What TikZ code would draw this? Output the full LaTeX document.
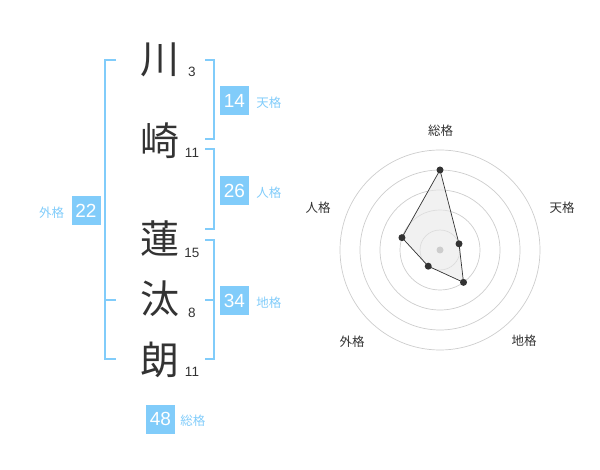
\documentclass[tikz,border=0pt]{standalone}
\usepackage{fontspec}
\setmainfont{Liberation Sans}
\newfontfamily\jpfont{Noto Sans CJK JP}
\usepackage{tikz}
\usetikzlibrary{positioning, calc}
\definecolor{skyblue}{RGB}{129,204,250}
\definecolor{inkdark}{RGB}{51,51,51}
\definecolor{ringgray}{RGB}{205,205,205}
\definecolor{areagray}{RGB}{232,232,232}
\tikzset{
  kanji/.style={font=\jpfont\fontsize{39}{39}\selectfont, text=inkdark, inner sep=0pt},
  strokes/.style={font=\fontsize{13.5}{13.5}\selectfont, text=inkdark, inner sep=0pt},
  scorebox/.style={rectangle, fill=skyblue, text=white, minimum width=29pt,
    minimum height=29pt, inner sep=0pt, font=\fontsize{19}{19}\selectfont},
  kaku/.style={font=\jpfont\fontsize{12.5}{12.5}\selectfont, text=skyblue, inner sep=0pt},
  bracket/.style={draw=skyblue, line width=2pt},
  ring/.style={draw=ringgray, line width=0.7pt},
  axislabel/.style={font=\jpfont\fontsize{12.5}{12.5}\selectfont, text=inkdark, inner sep=0pt},
  dot/.style={circle, fill=inkdark, inner sep=0pt, minimum size=7pt}
}
\begin{document}
\begin{tikzpicture}[x=1pt, y=-1pt]
  \useasboundingbox (0,0) rectangle (600,470);

  % Name
  \node[kanji] (c1) at (160,60) {川};
  \node[kanji] (c2) at (160,141) {崎};
  \node[kanji] (c3) at (160,239) {蓮};
  \node[kanji] (c4) at (160,299) {汰};
  \node[kanji] (c5) at (160,360) {朗};
  \node[strokes] (s1) at (192,72) {3};
  \node[strokes] (s2) at (192,153) {11};
  \node[strokes] (s3) at (192,253) {15};
  \node[strokes] (s4) at (192,313) {8};
  \node[strokes] (s5) at (192,372) {11};

  % Brackets
  \draw[bracket] (116,60) -- (105,60) -- (105,359) -- (116,359);
  \draw[bracket] (105,300) -- (116,300);
  \draw[bracket] (205,60) -- (214,60) -- (214,139) -- (205,139);
  \draw[bracket] (205,149) -- (214,149) -- (214,229) -- (205,229);
  \draw[bracket] (205,240) -- (214,240) -- (214,359) -- (205,359);
  \draw[bracket] (205,300) -- (214,300);

  % Scores
  \node[scorebox] (ten) at (234.5,100.5) {14};
  \node[kaku, right=7pt of ten, yshift=-2pt] {天格};
  \node[scorebox] (jin) at (234.5,190.5) {26};
  \node[kaku, right=7pt of jin, yshift=-2pt] {人格};
  \node[scorebox] (chi) at (234.5,300.5) {34};
  \node[kaku, right=7pt of chi, yshift=-2pt] {地格};
  \node[scorebox] (gai) at (86,210.5) {22};
  \node[kaku, left=7pt of gai, yshift=-2pt] {外格};
  \node[scorebox] (sou) at (160.5,419) {48};
  \node[kaku, right=5pt of sou, yshift=-2pt] {総格};

  % Radar
  \begin{scope}[shift={(440,250)}, y=1pt]
    \foreach \r in {20,40,...,100}
      \draw[ring] (0,0) circle (\r);
    \coordinate (p1) at (90:80);
    \coordinate (p2) at (18:20);
    \coordinate (p3) at (-54:40);
    \coordinate (p4) at (-126:20);
    \coordinate (p5) at (162:40);
    \draw[fill=areagray, fill opacity=0.6, draw=inkdark, line width=0.7pt]
      (p1) -- (p2) -- (p3) -- (p4) -- (p5) -- cycle;
    \fill[ringgray] (0,0) circle (3.5);
    \foreach \p in {p1,p2,p3,p4,p5}
      \node[dot] at (\p) {};
    \node[axislabel] (lsou) at (0.5,119) {総格};
    \node[axislabel] (lten) at (122,42) {天格};
    \node[axislabel] (ljin) at (-122,42) {人格};
    \node[axislabel] (lgai) at (-88,-92) {外格};
    \node[axislabel] (lchi) at (84,-91) {地格};
  \end{scope}
\end{tikzpicture}
\end{document}
